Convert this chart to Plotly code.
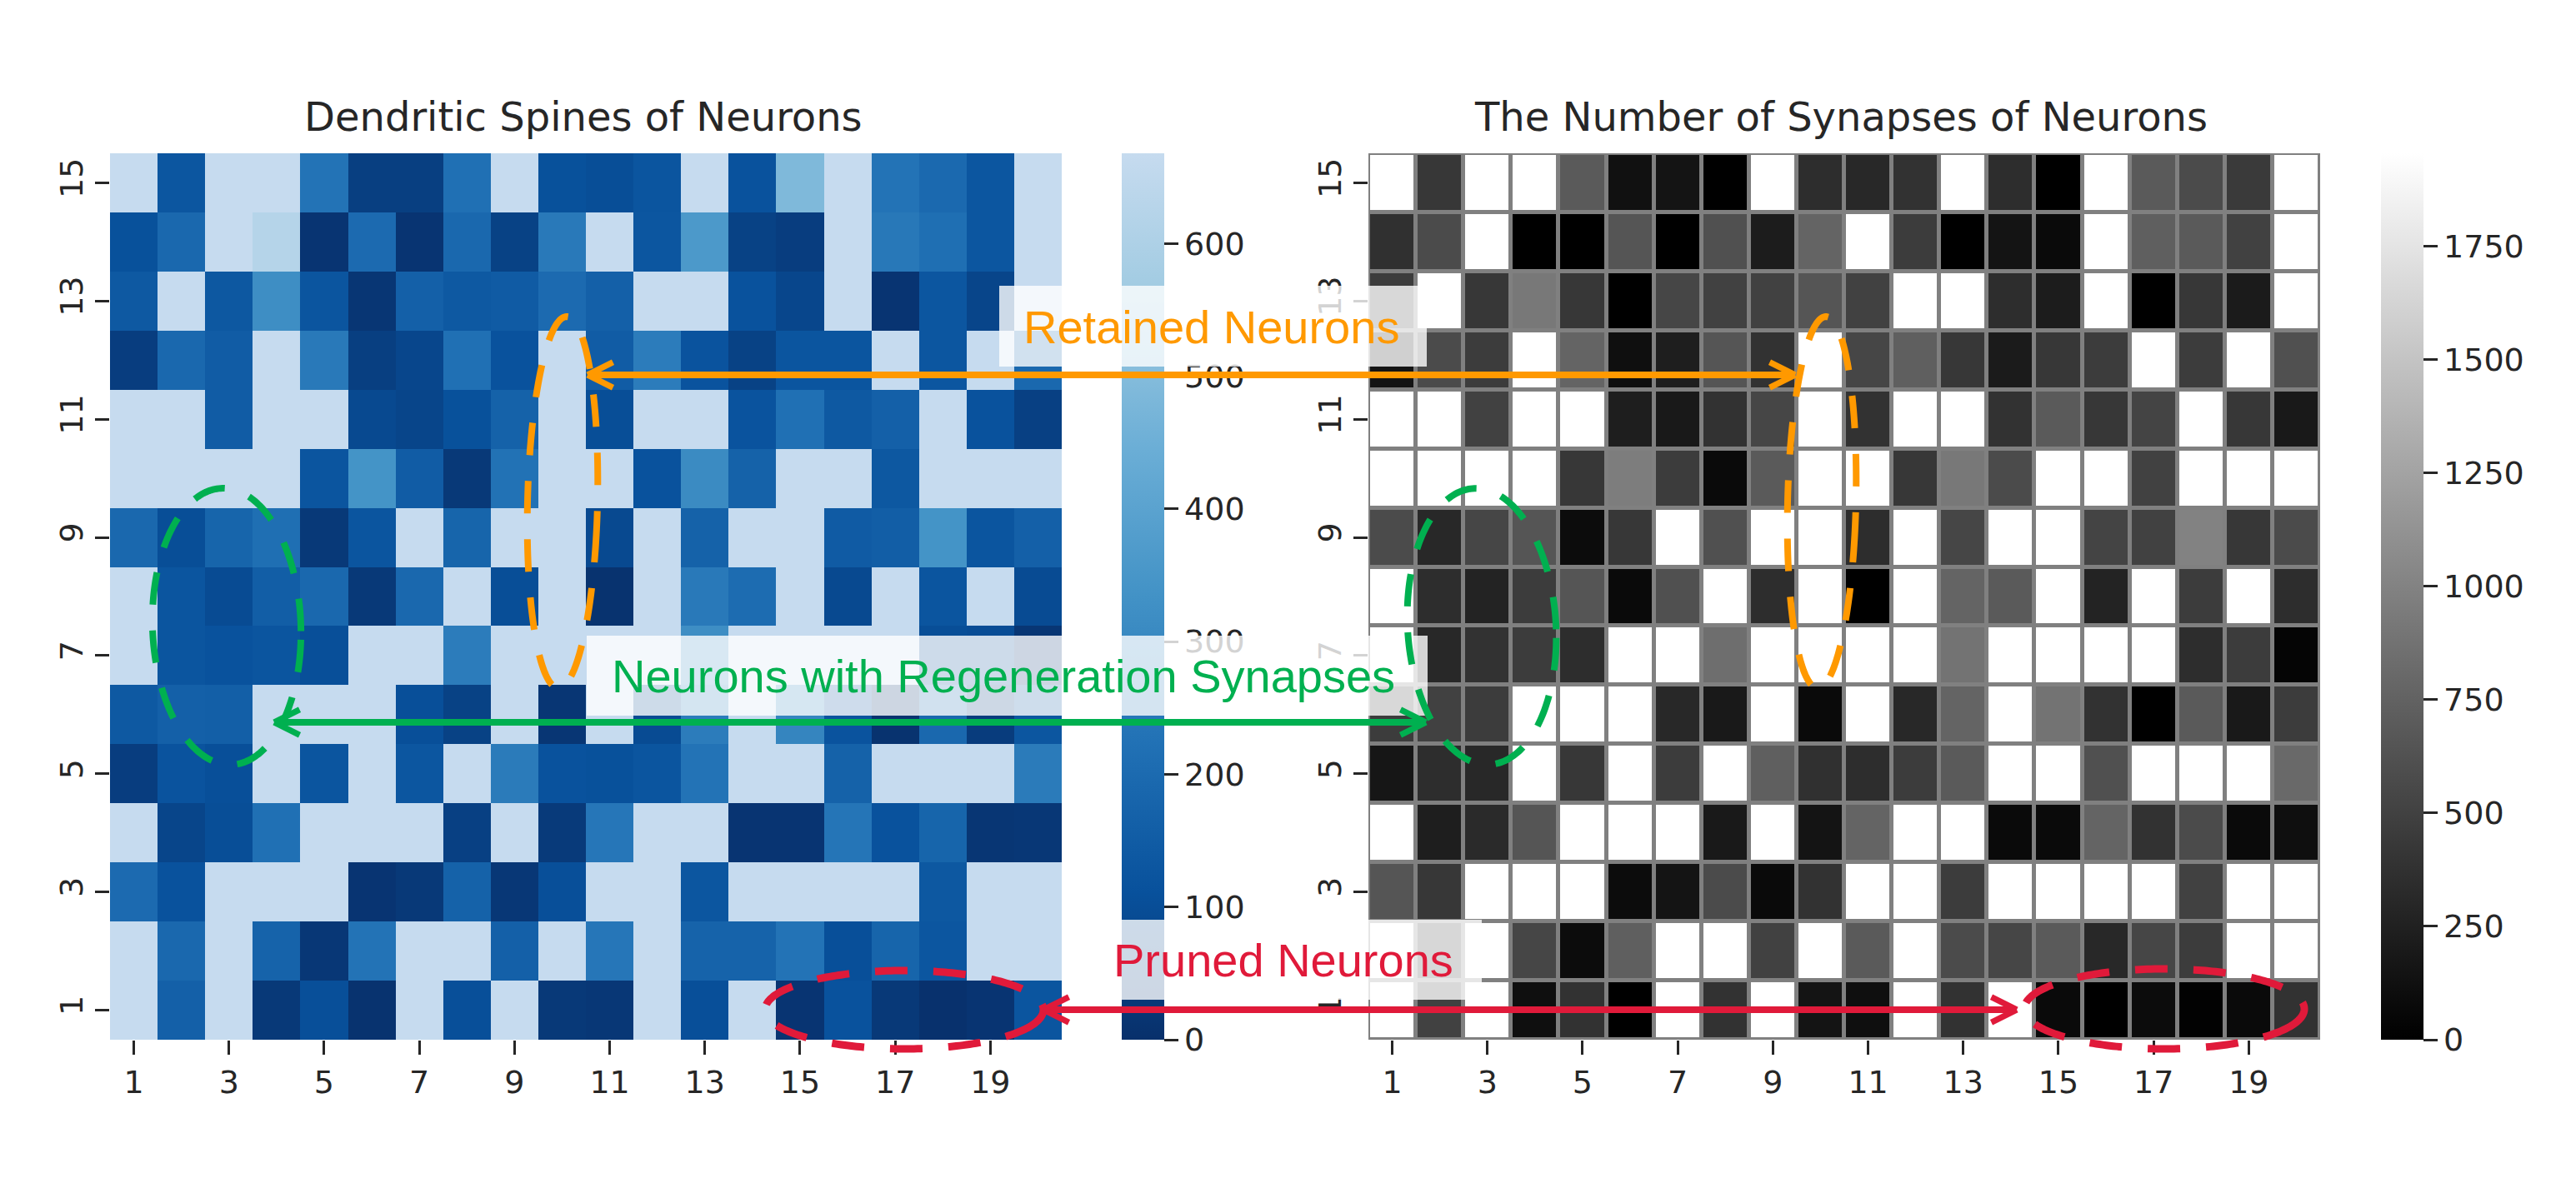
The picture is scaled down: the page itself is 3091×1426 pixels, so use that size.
import math
import plotly.graph_objects as go

W, H = 3091, 1426

# ---- axis categories ----
neuron_x = list(range(1, 21))
neuron_y = list(range(15, 0, -1))
x_ticks = [1, 3, 5, 7, 9, 11, 13, 15, 17, 19]
y_ticks = [1, 3, 5, 7, 9, 11, 13, 15]
spine_bar_ticks = [0, 100, 200, 300, 400, 500, 600]
synapse_bar_ticks = [0, 250, 500, 750, 1000, 1250, 1500, 1750]

# ---- Dendritic spines, one list per row ----
spines_15 = [668,130,668,668,230,50,50,220,668,110,100,125,668,115,490,668,230,195,130,668]
spines_14 = [110,190,668,620,15,200,15,190,60,250,668,130,360,60,45,668,245,215,130,668]
spines_13 = [140,668,135,320,125,20,165,140,145,200,165,668,668,115,75,668,15,130,70,668]
spines_12 = [45,190,150,668,250,50,75,220,115,668,150,260,120,60,125,125,668,130,668,190]
spines_11 = [668,668,150,668,668,85,70,110,170,668,100,668,668,120,220,140,165,668,115,55]
spines_10 = [668,668,668,668,125,340,150,30,225,668,668,115,310,170,668,668,135,668,668,668]
spines_9 = [190,100,180,215,30,125,668,180,668,668,85,668,170,668,668,145,155,340,125,165]
spines_8 = [668,125,90,155,190,30,190,668,100,668,10,668,250,205,668,85,668,125,668,90]
spines_7 = [668,125,115,125,105,668,668,260,668,668,668,668,320,668,668,668,668,100,95,20]
spines_6 = [140,165,160,668,668,668,105,60,668,20,668,90,260,668,290,120,10,190,40,130]
spines_5 = [45,120,105,668,125,668,130,668,255,115,110,125,230,668,668,170,668,668,668,255]
spines_4 = [668,70,100,220,668,668,668,55,668,35,240,668,668,15,15,235,115,180,20,25]
spines_3 = [200,115,668,668,668,15,30,170,25,105,668,668,130,668,668,668,668,135,668,668]
spines_2 = [668,190,668,175,25,230,668,668,165,668,240,668,175,175,230,105,180,130,668,668]
spines_1 = [668,165,668,30,105,10,668,105,668,30,25,668,105,668,15,115,30,5,15,125]

# ---- Number of synapses, one list per row ----
synapses_15 = [1955,422,1955,1955,690,130,153,0,1955,345,307,383,1955,345,0,1955,690,575,445,1955]
synapses_14 = [368,575,1955,0,0,652,0,613,215,767,1955,460,0,153,77,1955,728,690,498,1955]
synapses_13 = [460,1955,422,920,422,0,537,498,498,652,498,1955,1955,345,215,1955,0,422,207,1955]
synapses_12 = [153,575,460,1955,767,115,230,652,383,1955,537,728,422,207,422,460,1955,460,1955,613]
synapses_11 = [1955,1955,498,1955,1955,230,192,383,537,1955,383,1955,1955,383,690,422,521,1955,422,192]
synapses_10 = [1955,1955,1955,1955,422,958,460,77,690,1955,1955,422,920,575,1955,1955,498,1955,1955,1955]
synapses_9 = [575,307,537,652,92,422,1955,613,1955,1955,345,1955,537,1955,1955,521,498,997,422,575]
synapses_8 = [1955,345,268,460,652,77,613,1955,345,1955,0,1955,767,690,1955,268,1955,460,1955,345]
synapses_7 = [1955,307,383,460,345,1955,1955,843,1955,1955,1955,1955,882,1955,1955,1955,1955,345,460,38]
synapses_6 = [460,498,460,1955,1955,1955,307,192,1955,77,1955,307,767,1955,882,383,0,690,192,460]
synapses_5 = [169,345,307,1955,422,1955,460,1955,728,368,345,460,690,1955,1955,613,1955,1955,1955,805]
synapses_4 = [1955,230,322,652,1955,1955,1955,192,1955,153,767,1955,1955,77,77,767,383,575,77,115]
synapses_3 = [652,422,1955,1955,1955,92,153,575,77,383,1955,1955,460,1955,1955,1955,1955,498,1955,1955]
synapses_2 = [1955,422,1955,537,92,728,1955,1955,498,1955,690,1955,575,537,690,307,537,460,1955,1955]
synapses_1 = [1955,498,1955,115,383,0,1955,383,1955,153,115,1955,383,1955,77,0,92,15,77,383]

spines = [spines_15, spines_14, spines_13, spines_12, spines_11, spines_10, spines_9, spines_8,
          spines_7, spines_6, spines_5, spines_4, spines_3, spines_2, spines_1]
synapses = [synapses_15, synapses_14, synapses_13, synapses_12, synapses_11, synapses_10, synapses_9,
            synapses_8, synapses_7, synapses_6, synapses_5, synapses_4, synapses_3, synapses_2, synapses_1]

# ---- styles ----
INK = "#262626"
ORANGE, GREEN, RED = "#FF9900", "#00B050", "#E01A3A"
TICK_FONT = dict(family="DejaVu Sans", size=38, color=INK)
blues_r = [[0, "#08306b"], [1/6, "#08519c"], [2/6, "#2171b5"], [3/6, "#4292c6"],
           [4/6, "#6baed6"], [5/6, "#9ecae1"], [1, "#c6dbef"]]
gray = [[0, "#000000"], [1, "#ffffff"]]


def fx(px):
    return px / W


def fy(py):
    return 1 - py / H


PLOT_TOP, PLOT_BOTTOM = 184, 1248


def colorbar(left, ticks):
    return dict(x=fx(left), xanchor="left", xpad=0, ypad=0, y=fy(PLOT_BOTTOM), yanchor="bottom",
                len=(PLOT_BOTTOM - PLOT_TOP) / H, lenmode="fraction", thickness=51,
                outlinewidth=0, ticks="outside", ticklen=17, tickwidth=3, tickcolor=INK,
                tickvals=ticks, tickfont=TICK_FONT)


fig = go.Figure()
fig.add_trace(go.Heatmap(z=spines, x=neuron_x, y=neuron_y, zmin=0, zmax=668, colorscale=blues_r,
                         colorbar=colorbar(1346, spine_bar_ticks), xaxis="x", yaxis="y"))
fig.add_trace(go.Heatmap(z=synapses, x=neuron_x, y=neuron_y, zmin=0, zmax=1955, colorscale=gray,
                         xgap=5, ygap=5, colorbar=colorbar(2857, synapse_bar_ticks),
                         xaxis="x2", yaxis="y2"))


def xaxis(x0, x1):
    return dict(domain=[fx(x0), fx(x1)], range=[0.5, 20.5], tickvals=x_ticks, ticks="outside",
                ticklen=17, tickwidth=3, tickcolor=INK, tickfont=TICK_FONT, showgrid=False,
                zeroline=False, showline=False, tickangle=0)


def yaxis(anchor):
    return dict(domain=[fy(PLOT_BOTTOM), fy(PLOT_TOP)], range=[0.5, 15.5], tickvals=y_ticks,
                ticks="outside", ticklen=17, tickwidth=3, tickcolor=INK, tickfont=TICK_FONT,
                showgrid=False, zeroline=False, showline=False, tickangle=-90, anchor=anchor)


shapes = []
annotations = []


def box(x0, x1, y0, y1):
    """Translucent white label box; the part over the colorbar must sit in the annotation layer."""
    cover0, cover1 = 1340, 1540
    for a, b in ((x0, cover0), (cover1, x1)):
        shapes.append(dict(type="rect", xref="paper", yref="paper", x0=fx(a), x1=fx(b), y0=fy(y1), y1=fy(y0),
                           line_width=0, fillcolor="rgba(255,255,255,0.8)", layer="above"))
    annotations.append(dict(xref="paper", yref="paper", x=fx(cover0), y=fy(y0), xanchor="left", yanchor="top",
                            text=" ", showarrow=False, width=cover1 - cover0, height=y1 - y0,
                            bgcolor="rgba(255,255,255,0.8)", borderpad=0, borderwidth=0,
                            font=dict(size=1)))


def ellipse(cx, cy, rx, ry, tilt, start, color, width=8):
    """Dashed tilted ellipse outline; start (degrees, clockwise from the right end) is where a dash begins."""
    phi, start = math.radians(tilt), math.radians(start)
    pts = []
    for k in range(240):
        t = start + 2 * math.pi * k / 240
        a, b = rx * math.cos(t), ry * math.sin(t)
        pts.append((fx(cx + a * math.cos(phi) - b * math.sin(phi)), fy(cy + a * math.sin(phi) + b * math.cos(phi))))
    path = "M" + "L".join(f"{x:.6f},{y:.6f}" for x, y in pts) + "Z"
    shapes.append(dict(type="path", path=path, xref="paper", yref="paper", layer="above",
                       line=dict(color=color, width=width, dash="39px,31px")))


def seg(x0, y0, x1, y1, color, width):
    annotations.append(dict(xref="paper", yref="paper", x=fx(x1), y=fy(y1), axref="pixel", ayref="pixel",
                            ax=x0 - x1, ay=y0 - y1, text=" ", font=dict(size=1), showarrow=True,
                            arrowhead=0, arrowwidth=width, arrowcolor=color, standoff=0, startstandoff=0))


def double_arrow(x0, x1, y, color, width=8):
    seg(x0, y, x1, y, color, width)
    for sx, tip in ((1, x0), (-1, x1)):
        seg(tip + sx * 32, y - 16, tip, y, color, width - 1)
        seg(tip + sx * 32, y + 16, tip, y, color, width - 1)


def label(text, cx, cy, color):
    annotations.append(dict(xref="paper", yref="paper", x=fx(cx), y=fy(cy), xanchor="center", yanchor="middle",
                            text=text, showarrow=False, font=dict(family="Liberation Sans", size=56, color=color)))


box(1199, 1712, 343, 440)
box(704, 1713, 763, 859)
box(1300, 1778, 1104, 1200)

ellipse(675, 603, 42, 223, 1.3, 8.3, ORANGE)
ellipse(2186, 603, 41, 223, 1.3, 8.3, ORANGE)
ellipse(272, 752, 89, 166, -2, 6.6, GREEN)
ellipse(1778, 752, 89, 166, -3.4, 6.6, GREEN)
ellipse(1085, 1212, 167, 47, 0, 20, RED, 9)
ellipse(2597, 1211, 168, 48, 0, 23, RED, 9)

double_arrow(705, 2154, 450, ORANGE)
double_arrow(329, 1711, 867, GREEN)
double_arrow(1252, 2420, 1212, RED)

label("Retained Neurons", 1453, 392, ORANGE)
label("Neurons with Regeneration Synapses", 1204, 811, GREEN)
label("Pruned Neurons", 1540, 1152, RED)

for text, cx in (("Dendritic Spines of Neurons", 700), ("The Number of Synapses of Neurons", 2209)):
    annotations.append(dict(xref="paper", yref="paper", x=fx(cx), y=fy(140), xanchor="center", yanchor="middle",
                            text=text, showarrow=False, font=dict(family="DejaVu Sans", size=48, color=INK)))

fig.update_layout(
    width=W, height=H, margin=dict(l=0, r=0, t=0, b=0, pad=0), autosize=False,
    paper_bgcolor="white", plot_bgcolor="#808080", showlegend=False,
    xaxis=xaxis(132, 1274), yaxis=yaxis("x"),
    xaxis2=xaxis(1642, 2784), yaxis2=yaxis("x2"),
    shapes=shapes, annotations=annotations,
)
fig.write_html("out.html", config=dict(displayModeBar=False),
               post_script="document.body.style.margin='0';")
